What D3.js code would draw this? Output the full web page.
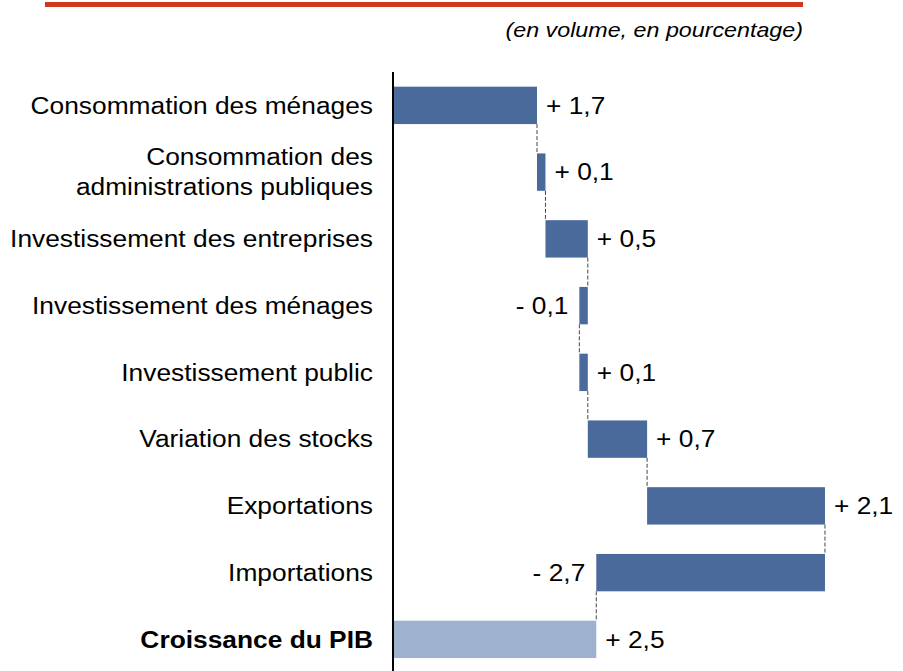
<!DOCTYPE html>
<html>
<head>
<meta charset="utf-8">
<script src="https://cdn.jsdelivr.net/npm/d3@7"></script>
<style>
  body { margin: 0; background: #fff; }
  svg { display: block; font-family: "Liberation Sans", Arial, sans-serif; }
</style>
</head>
<body>
<svg id="chart" width="903" height="671"></svg>
<script>
// data
const categories = [
  ["Consommation des ménages"],
  ["Consommation des", "administrations publiques"],
  ["Investissement des entreprises"],
  ["Investissement des ménages"],
  ["Investissement public"],
  ["Variation des stocks"],
  ["Exportations"],
  ["Importations"],
  ["Croissance du PIB"]
];
const contributions = [1.7, 0.1, 0.5, -0.1, 0.1, 0.7, 2.1, -2.7];
const valueLabels = ["+ 1,7", "+ 0,1", "+ 0,5", "- 0,1", "+ 0,1", "+ 0,7", "+ 2,1", "- 2,7", "+ 2,5"];
const subtitle = "(en volume, en pourcentage)";

// the reference is a bit stretched sideways, so text is too
const sx = 1.13;
const fontSize = 23.3;

const svg = d3.select('#chart');

// build waterfall steps
let steps = [];
let run = 0;
for (let i = 0; i < contributions.length; i++) {
  let start = run;
  run += contributions[i];
  steps.push({i: i, start: start, end: run, v: contributions[i], total: false});
}
steps.push({i: contributions.length, start: 0, end: run, v: run, total: true});

// scales
const x = d3.scaleLinear()
  .domain([0, 4])
  .range([393, 393 + 4 * 84.7]);

const y = d3.scaleBand()
  .domain(d3.range(categories.length))
  .range([72, 672.75])
  .paddingInner(0.44)
  .paddingOuter(0.22);

// header
svg.append('rect')
  .attr('x', 45)
  .attr('y', 2)
  .attr('width', 758)
  .attr('height', 5)
  .attr('fill', '#cf3a1f');

function stretchedText(parent, tx, ty, txt) {
  return parent.append('g')
    .attr('transform', 'translate(' + tx + ',' + ty + ')')
    .append('text')
    .attr('transform', 'scale(' + sx + ',1)')
    .text(txt);
}

stretchedText(svg, 803, 37, subtitle)
  .attr('text-anchor', 'end')
  .attr('font-size', 20.6)
  .attr('font-style', 'italic')
  .attr('fill', '#000');

// bars
const bars = svg.append('g');
bars.selectAll('rect')
  .data(steps)
  .enter()
  .append('rect')
  .attr('x', d => x(Math.min(d.start, d.end)))
  .attr('y', d => y(d.i))
  .attr('width', d => Math.abs(x(d.end) - x(d.start)))
  .attr('height', y.bandwidth())
  .attr('fill', d => d.total ? '#9eb1cf' : '#4a6a9b');

// connectors
const links = svg.append('g');
for (let k = 0; k < steps.length - 1; k++) {
  let xx = steps[k + 1].total ? x(steps[k + 1].end) : x(steps[k].end);
  links.append('line')
    .attr('x1', xx)
    .attr('x2', xx)
    .attr('y1', y(k) + y.bandwidth())
    .attr('y2', y(k + 1))
    .attr('stroke', '#444')
    .attr('stroke-width', 1)
    .attr('stroke-dasharray', '4,2');
}

// vertical axis
svg.append('line')
  .attr('x1', x(0))
  .attr('x2', x(0))
  .attr('y1', 72)
  .attr('y2', 671)
  .attr('stroke', '#000')
  .attr('stroke-width', 2);

// category labels
const labs = svg.append('g').attr('font-size', fontSize).attr('fill', '#000');
categories.forEach((lines, i) => {
  let cy = y(i) + y.bandwidth() / 2;
  lines.forEach((ln, j) => {
    let off = (j - (lines.length - 1) / 2) * 30;
    let t = stretchedText(labs, 373, cy + off + fontSize * 0.35, ln)
      .attr('text-anchor', 'end');
    if (i === categories.length - 1) t.attr('font-weight', 'bold');
  });
});

// value labels
const vals = svg.append('g').attr('font-size', fontSize).attr('fill', '#000');
steps.forEach((d, i) => {
  let cy = y(d.i) + y.bandwidth() / 2 + fontSize * 0.35;
  if (d.v < 0) {
    stretchedText(vals, x(Math.min(d.start, d.end)) - 11, cy, valueLabels[i])
      .attr('text-anchor', 'end');
  } else {
    stretchedText(vals, x(Math.max(d.start, d.end)) + 9, cy, valueLabels[i])
      .attr('text-anchor', 'start');
  }
});
</script>
</body>
</html>
